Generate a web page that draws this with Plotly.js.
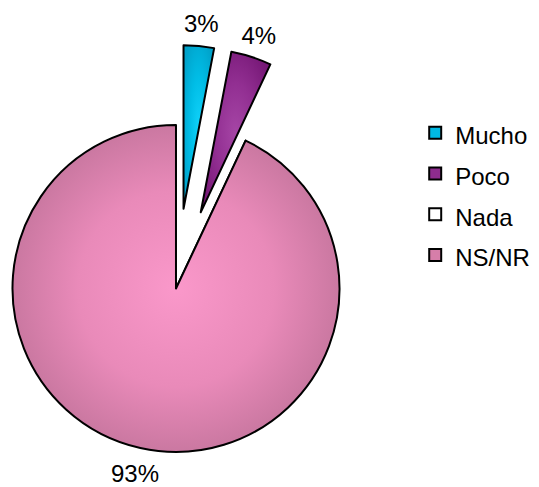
<!DOCTYPE html>
<html>
<head>
<meta charset="utf-8">
<script src="https://cdn.plot.ly/plotly-3.0.1.min.js"></script>
<style>
  html, body { margin: 0; padding: 0; background: #fff; }
  body { width: 539px; height: 487px; overflow: hidden; position: relative; }
  /* the plot box is wider and taller than the page so the exploded pie keeps its full radius */
  #chart { position: absolute; left: -80px; top: 0; width: 619px; height: 540px; }
  #chart path.textline { display: none; }
</style>
</head>
<body>
<div id="chart"></div>
<script>
// Answer shares (percent of respondents)
const labels = ['Mucho', 'Poco', 'Nada', 'NS/NR'];
const shares = [3, 4, 0, 93];
const sliceColors = ['#00b9e3', '#8e2c8e', '#ffffff', '#d67ea9'];

// radial shading per slice: [centre colour, mid colour, rim colour]
const shading = [
  ['#10d2fa', '#00bde6', '#00a2ca'],
  ['#a545a5', '#922f92', '#751775'],
  null,
  ['#fa98ca', '#e98ab9', '#bb6f95']
];

const FONT = '"Liberation Sans", Arial, sans-serif';
const explode = 0.49;          // how far the small slices are pulled out (fraction of radius)
const labelDistance = 1.15;    // percent labels sit this far out along each slice's bisector

const trace = {
  type: 'pie',
  labels: labels.map(l => '<span style="font-size:24px">' + l + '</span>'),
  values: shares,
  sort: false,
  direction: 'clockwise',
  rotation: 0,
  pull: shares.map(v => v < 10 && v > 0 ? explode : 0),
  marker: { colors: sliceColors, line: { color: '#000000', width: 2 } },
  texttemplate: shares.map(v => v > 0 ? '%{percent}' : ''),
  textposition: 'outside',
  outsidetextfont: { family: FONT, size: 24, color: '#000000' },
  hovertemplate: '%{label}: %{percent}<extra></extra>',
  domain: { x: [0.0200, 0.8071], y: [0.0146, 0.9169] }
};

const layout = {
  width: 619,
  height: 540,
  margin: { l: 0, r: 0, t: 0, b: 0 },
  paper_bgcolor: '#ffffff',
  font: { family: FONT, color: '#000000' },
  showlegend: true,
  legend: {
    x: 0.80, xanchor: 'left',
    y: 0.6407, yanchor: 'middle',
    font: { family: FONT, size: 29, color: '#000000' },
    bgcolor: 'rgba(0,0,0,0)'
  }
};

Plotly.newPlot('chart', [trace], layout, { displayModeBar: false, staticPlot: true }).then(gd => {
  const svg = gd.querySelector('.main-svg');
  const svgBox = svg.getBoundingClientRect();
  const cd0 = gd.calcdata[0][0];
  const NS = 'http://www.w3.org/2000/svg';

  // soft radial shading on the slice fills
  const defs = document.createElementNS(NS, 'defs');
  svg.insertBefore(defs, svg.firstChild);

  gd.querySelectorAll('g.slice').forEach(g => {
    const pt = g.__data__;
    if (!pt) return;
    const idx = pt.i;
    const cols = shading[idx];
    if (cols) {
      const grad = document.createElementNS(NS, 'radialGradient');
      const id = 'shade-' + idx;
      grad.setAttribute('id', id);
      grad.setAttribute('cx', '0.5'); grad.setAttribute('cy', '0.5'); grad.setAttribute('r', '0.6');
      [[0, cols[0]], [0.5, cols[1]], [1, cols[2]]].forEach(([o, c]) => {
        const s = document.createElementNS(NS, 'stop');
        s.setAttribute('offset', o);
        s.setAttribute('stop-color', c);
        grad.appendChild(s);
      });
      defs.appendChild(grad);
      const path = g.querySelector('path.surface');
      if (path) path.style.fill = 'url(#' + id + ')';
    }

    // place the percent label straight out along the slice bisector, no leader line
    const txt = g.querySelector('text.slicetext');
    if (!txt || !pt.pxmid) return;
    const len = Math.hypot(pt.pxmid[0], pt.pxmid[1]) || 1;
    const ux = pt.pxmid[0] / len, uy = pt.pxmid[1] / len;
    const pull = trace.pull[idx] || 0;
    const apexX = cd0.cx + pull * pt.pxmid[0];
    const apexY = cd0.cy + pull * pt.pxmid[1];
    const tx = svgBox.left + apexX + ux * labelDistance * cd0.r;
    const ty = svgBox.top + apexY + uy * labelDistance * cd0.r + 2;
    const b = txt.getBoundingClientRect();
    const dx = tx - (b.left + b.width / 2);
    const dy = ty - (b.top + b.height / 2);
    const t0 = txt.getAttribute('transform') || '';
    txt.setAttribute('transform', 'translate(' + dx + ',' + dy + ') ' + t0);
  });
});
</script>
</body>
</html>
